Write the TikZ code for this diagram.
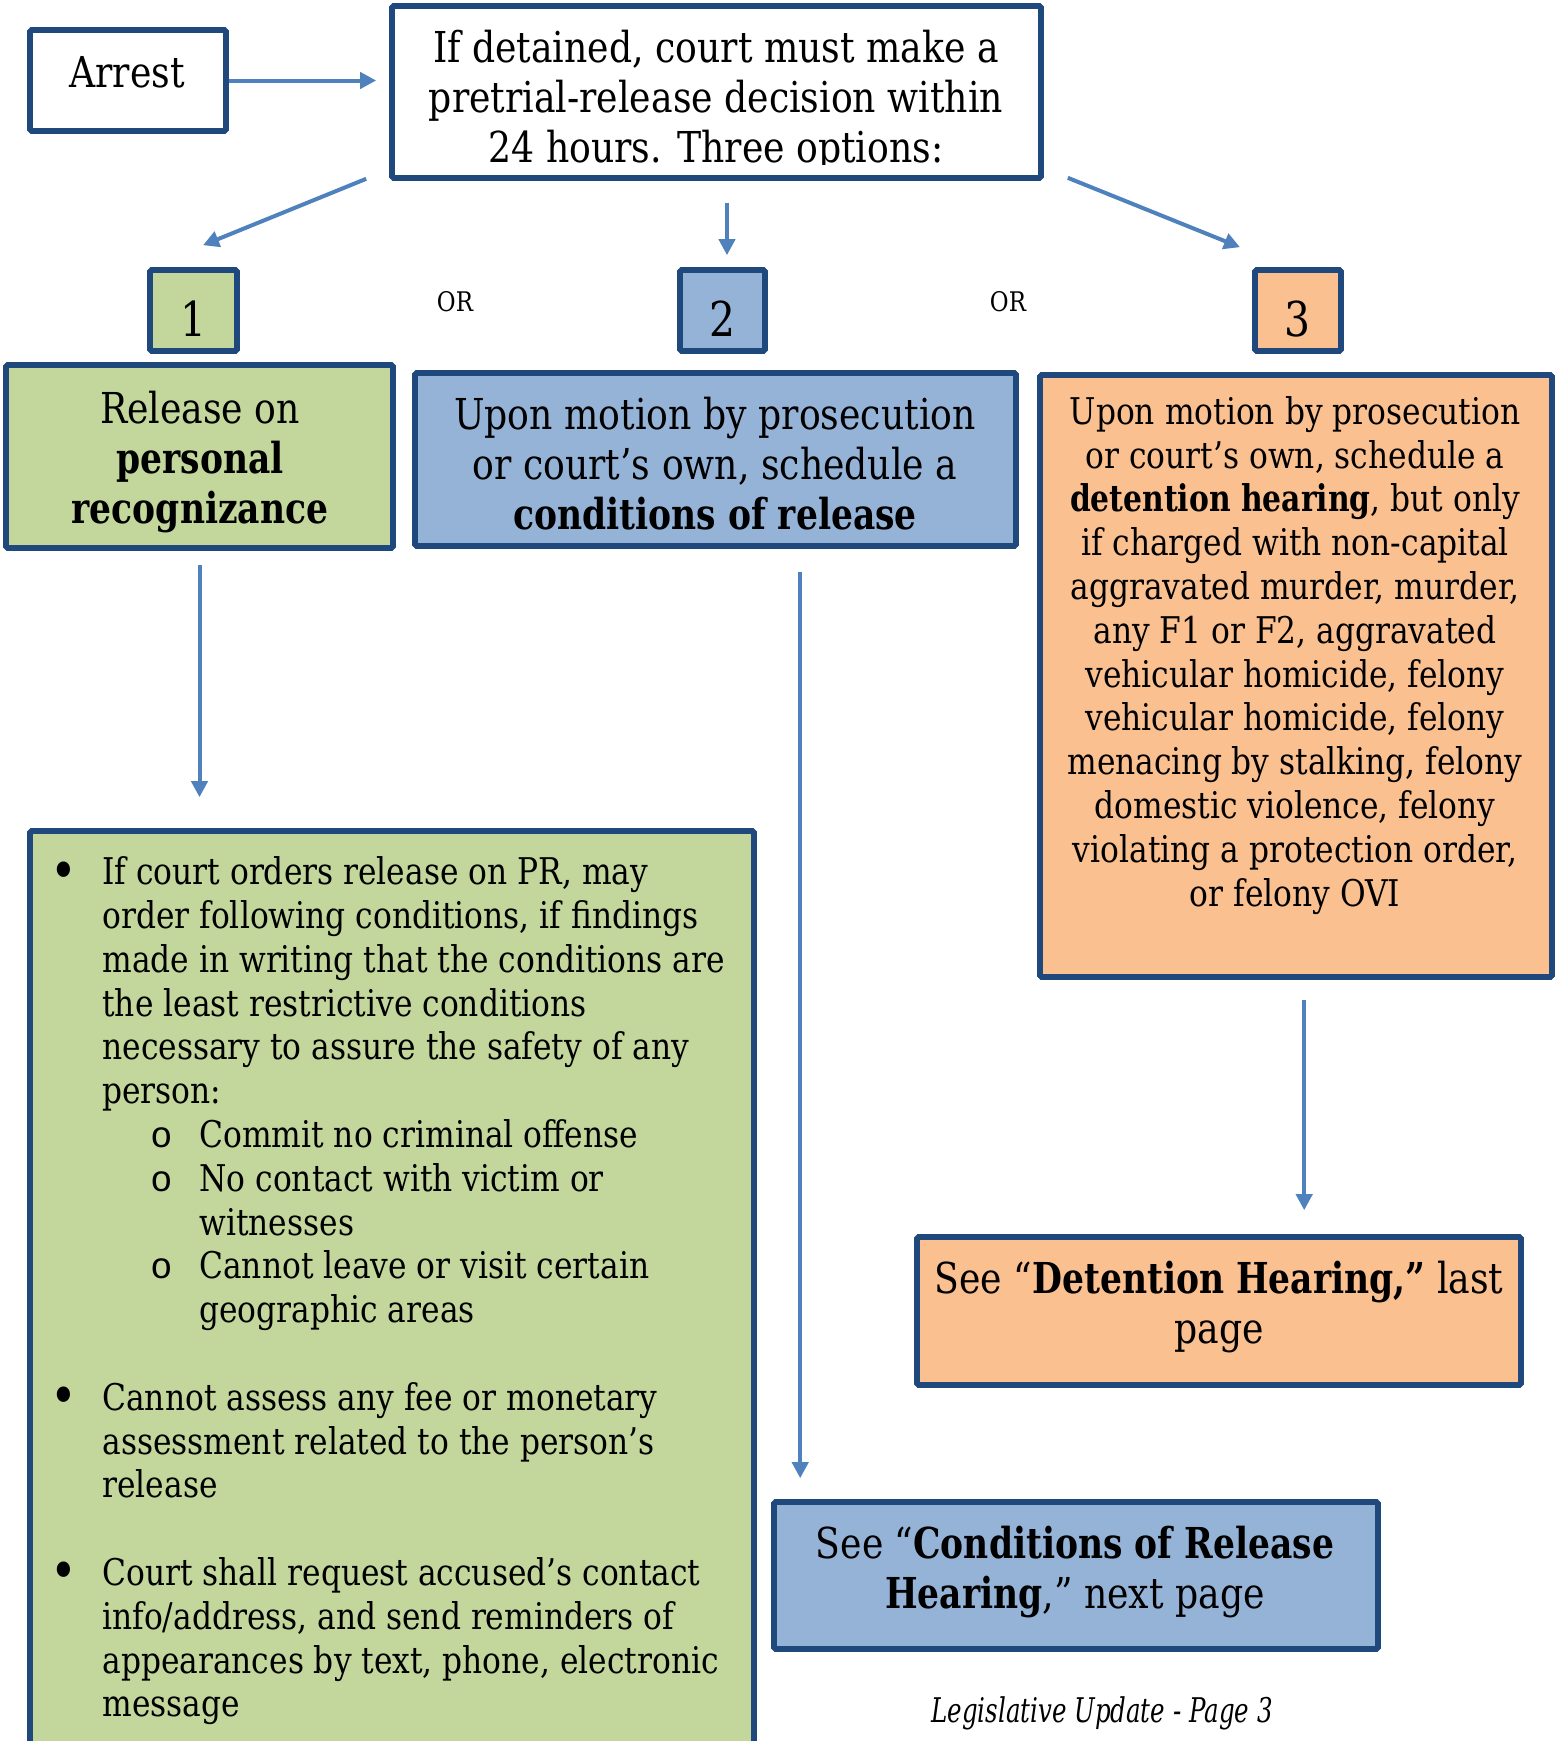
\documentclass[tikz,border=0pt]{standalone}
\usepackage{fontspec}
\setmainfont{DejaVu Serif}[UprightFeatures={FakeStretch=0.85},BoldFeatures={FakeStretch=0.81}]
\newfontfamily\footfont{DejaVu Serif}[FakeStretch=0.72]
\newfontfamily\monof{Liberation Mono}
\usetikzlibrary{arrows.meta,fit,calc}
\definecolor{bordc}{HTML}{1F497D}
\definecolor{arrowc}{HTML}{4F81BD}
\definecolor{greenc}{HTML}{C3D69B}
\definecolor{bluec}{HTML}{95B3D7}
\definecolor{orangec}{HTML}{FAC090}
\newcommand\fBig{\fontsize{21.3pt}{25pt}\selectfont}
\newcommand\fMed{\fontsize{18.4pt}{21.9pt}\selectfont}
\newcommand\fNum{\fontsize{24pt}{28pt}\selectfont}
\newcommand\fOr{\fontsize{13.5pt}{16pt}\selectfont}
\newcommand\mainb{\llap{\makebox[39pt]{\raisebox{-0.12em}{\scalebox{1.45}{\textbullet}}}}}
\newcommand\subb{\hspace*{48.5pt}\llap{\makebox[38pt]{\monof o}}}
\newcommand\subi{\hspace*{48.5pt}}
\tikzset{
  boxc/.style={draw=bordc, line width=2.8pt, inner sep=0pt, rounded corners=0.8pt},
  arr/.style={draw=arrowc, line width=2pt, -{Triangle[width=8pt,length=8pt]}},
  txt/.style={inner sep=0pt, align=center},
}
\begin{document}
\begin{tikzpicture}[x=0.5pt,y=-0.5pt]
\useasboundingbox (0,0) rectangle (1556,1741);
% boxes
\node[boxc, fill=white, fit={(30,30)(226,131)}] (arrest) {};
\node[boxc, fill=white, fit={(392,6)(1041,178)}] (top) {};
\node[boxc, fill=greenc, fit={(150,270)(237,351)}] (n1) {};
\node[boxc, fill=bluec, fit={(680,270)(765,351)}] (n2) {};
\node[boxc, fill=orangec, fit={(1255,270)(1341,351)}] (n3) {};
\node[boxc, fill=greenc, fit={(6,365)(393,548)}] (pr) {};
\node[boxc, fill=bluec, fit={(415,373)(1016,546)}] (cor) {};
\node[boxc, fill=orangec, fit={(1040,375)(1552,977)}] (det) {};
\node[boxc, fill=greenc, fit={(30,831)(754,1780)}] (list) {};
\node[boxc, fill=orangec, fit={(917,1237)(1521,1385)}] (seedet) {};
\node[boxc, fill=bluec, fit={(774,1502)(1378,1649)}] (seecor) {};
% connectors
\draw[arr] (arrest.east) -- ($(arrest.east -| top.west)+(-13,0)$);
\draw[arr] ($(top.south west)+(-23,-2)$) -- ($(n1.north)+(9.5,-22)$);
\draw[arr] ($(top.south)+(10.5,22)$) -- ($(n2.north)+(4.5,-12)$);
\draw[arr] ($(top.south east)+(24,-3)$) -- ($(n3.north)+(-58,-20)$);
\draw[arr] ($(pr.south)+(0,14)$) -- ($(pr.south |- list.north)+(0,-31)$);
\draw[arr] ($(cor.south west)+(388,23)$) -- ($(seecor.north west)+(29,-21)$);
\draw[arr] ($(det.south west)+(267,20)$) -- ($(seedet.north west)+(390,-24)$);
% texts
\node[txt, font=\fBig] (tarrest) at (127,72) {Arrest};
\begin{scope}
\clip (392,6) rectangle (1041,164);
\node[txt, font=\fBig] (ttop) at (716,102.5) {\strut If detained, court must make a\\pretrial-release decision within\\24 hours. Three options:\strut};
\end{scope}
\node[txt, font=\fNum] (t1) at (193,319) {1};
\node[txt, font=\fNum] (t2) at (722,319) {2};
\node[txt, font=\fNum] (t3) at (1297,319) {3};
\node[txt, font=\fOr] (or1) at (455,302) {OR};
\node[txt, font=\fOr] (or2) at (1008,302) {OR};
\node[txt, font=\fBig] (tpr) at (200,463.5) {\strut Release on\\\textbf{personal}\\\textbf{recognizance}\strut};
\node[txt, font=\fBig] (tcor) at (715,469.5) {\strut Upon motion by prosecution\\or court’s own, schedule a\\\textbf{conditions of release}\strut};
\node[txt, font=\fMed] (tdet) at (1295,656.5) {\strut Upon motion by prosecution\\or court’s own, schedule a\\\textbf{detention hearing}, but only\\if charged with non-capital\\aggravated murder, murder,\\any F1 or F2, aggravated\\vehicular homicide, felony\\vehicular homicide, felony\\menacing by stalking, felony\\domestic violence, felony\\violating a protection order,\\or felony OVI\strut};
\node[inner sep=0pt, align=left, anchor=west, font=\fMed] (tlist) at (102,1292) {\strut\mainb If court orders release on PR, may\\
order following conditions, if findings\\
made in writing that the conditions are\\
the least restrictive conditions\\
necessary to assure the safety of any\\
person:\\
\subb Commit no criminal offense\\
\subb No contact with victim or\\
\subi witnesses\\
\subb Cannot leave or visit certain\\
\subi geographic areas\\[21.9pt]
\mainb Cannot assess any fee or monetary\\
assessment related to the person’s\\
release\\[21.9pt]
\mainb Court shall request accused’s contact\\
info/address, and send reminders of\\
appearances by text, phone, electronic\\
message\strut};
\node[txt, font=\fBig] (tseedet) at (1219,1308) {\strut See “\textbf{Detention Hearing,”} last\\page\strut};
\node[txt, font=\fBig] (tseecor) at (1075,1573) {\strut See “\textbf{Conditions of Release}\\\textbf{Hearing},” next page\strut};
\node[txt, font=\footfont\itshape\fontsize{17pt}{20pt}\selectfont] (foot) at (1102,1713) {Legislative Update - Page 3};
\end{tikzpicture}
\end{document}
